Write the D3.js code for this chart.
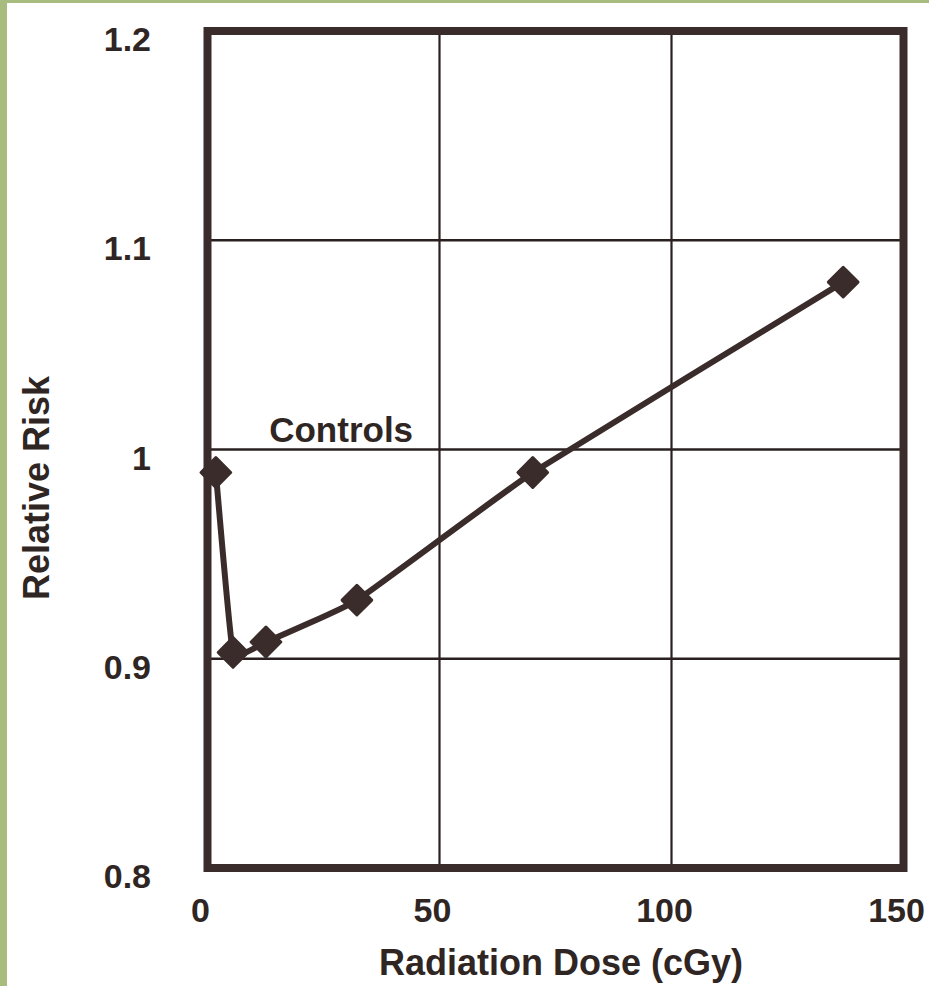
<!DOCTYPE html>
<html>
<head>
<meta charset="utf-8">
<script src="https://cdn.jsdelivr.net/npm/d3@7"></script>
<style>
  html, body { margin: 0; padding: 0; background: #ffffff; }
  svg { display: block; }
  text { font-family: "Liberation Sans", Arial, Helvetica, sans-serif; font-weight: bold; fill: #2f2624; }
</style>
</head>
<body>
<svg id="chart" width="929" height="986"></svg>
<script>
// ---- data ----
const doses = [1.8, 5.5, 12.6, 32.2, 70.1, 137];
const relativeRisk = [0.989, 0.903, 0.908, 0.928, 0.989, 1.080];
const xTicks = [0, 50, 100, 150];
const xTickLabels = ["0", "50", "100", "150"];
const yTicks = [0.8, 0.9, 1.0, 1.1, 1.2];
const yTickLabels = ["0.8", "0.9", "1", "1.1", "1.2"];
const annotation = { text: "Controls", dose: 13.3, risk: 1.0 };
const xTitle = "Radiation Dose (cGy)";
const yTitle = "Relative Risk";

// ---- layout ----
const W = 929, H = 986;
const plot = { left: 207.5, right: 903.5, top: 31, bottom: 868 };
const ink = "#3a2c2a";

const svg = d3.select("#chart");

// scanned-page green edges
svg.append("rect").attr("x", 0).attr("y", 0).attr("width", W).attr("height", 3).attr("fill", "#a9bc80");
svg.append("rect").attr("x", 0).attr("y", 0).attr("width", 7).attr("height", H).attr("fill", "#a9bc80");

const x = d3.scaleLinear().domain([0, 150]).range([plot.left, plot.right]);
const y = d3.scaleLinear().domain([0.8, 1.2]).range([plot.bottom, plot.top]);

// gridlines
const g = svg.append("g");
g.selectAll("line.vx").data(xTicks.slice(1, -1)).join("line")
  .attr("x1", d => x(d)).attr("x2", d => x(d))
  .attr("y1", plot.top).attr("y2", plot.bottom)
  .attr("stroke", "#2a2020").attr("stroke-width", 2.2);
g.selectAll("line.hy").data(yTicks.slice(1, -1)).join("line")
  .attr("x1", plot.left).attr("x2", plot.right)
  .attr("y1", d => y(d)).attr("y2", d => y(d))
  .attr("stroke", "#2a2020").attr("stroke-width", 2.6);

// frame
svg.append("rect")
  .attr("x", plot.left).attr("y", plot.top)
  .attr("width", plot.right - plot.left).attr("height", plot.bottom - plot.top)
  .attr("fill", "none").attr("stroke", ink).attr("stroke-width", 8);

// y tick labels
svg.selectAll("text.ytick").data(yTicks).join("text")
  .attr("class", "ytick")
  .attr("x", 151).attr("y", d => y(d) + 20)
  .attr("text-anchor", "end").attr("font-size", 34)
  .text((d, i) => yTickLabels[i]);

// x tick labels
svg.selectAll("text.xtick").data(xTicks).join("text")
  .attr("class", "xtick")
  .attr("x", d => x(d) - 7).attr("y", 922)
  .attr("text-anchor", "middle").attr("font-size", 34)
  .text((d, i) => xTickLabels[i]);

// axis titles
svg.append("text")
  .attr("x", 561).attr("y", 975)
  .attr("text-anchor", "middle").attr("font-size", 36)
  .text(xTitle);
svg.append("text")
  .attr("transform", "translate(49,488) rotate(-90)")
  .attr("text-anchor", "middle").attr("font-size", 36)
  .text(yTitle);

// annotation
svg.append("text")
  .attr("x", x(annotation.dose)).attr("y", y(annotation.risk) - 8)
  .attr("font-size", 35)
  .text(annotation.text);

// line
const pts = doses.map((d, i) => [d, relativeRisk[i]]);
const line = d3.line().x(d => x(d[0])).y(d => y(d[1])).curve(d3.curveCardinal.tension(0.7));
svg.append("path").datum(pts)
  .attr("d", line)
  .attr("fill", "none").attr("stroke", ink).attr("stroke-width", 6)
  .attr("stroke-linejoin", "round").attr("stroke-linecap", "round");

// diamond markers
const sym = d3.symbol().type(d3.symbolSquare).size(440);
svg.selectAll("path.mk").data(pts).join("path")
  .attr("class", "mk")
  .attr("d", sym)
  .attr("transform", d => `translate(${x(d[0])},${y(d[1])}) rotate(45)`)
  .attr("fill", ink).attr("stroke", ink).attr("stroke-width", 3).attr("stroke-linejoin", "round");
</script>
</body>
</html>
